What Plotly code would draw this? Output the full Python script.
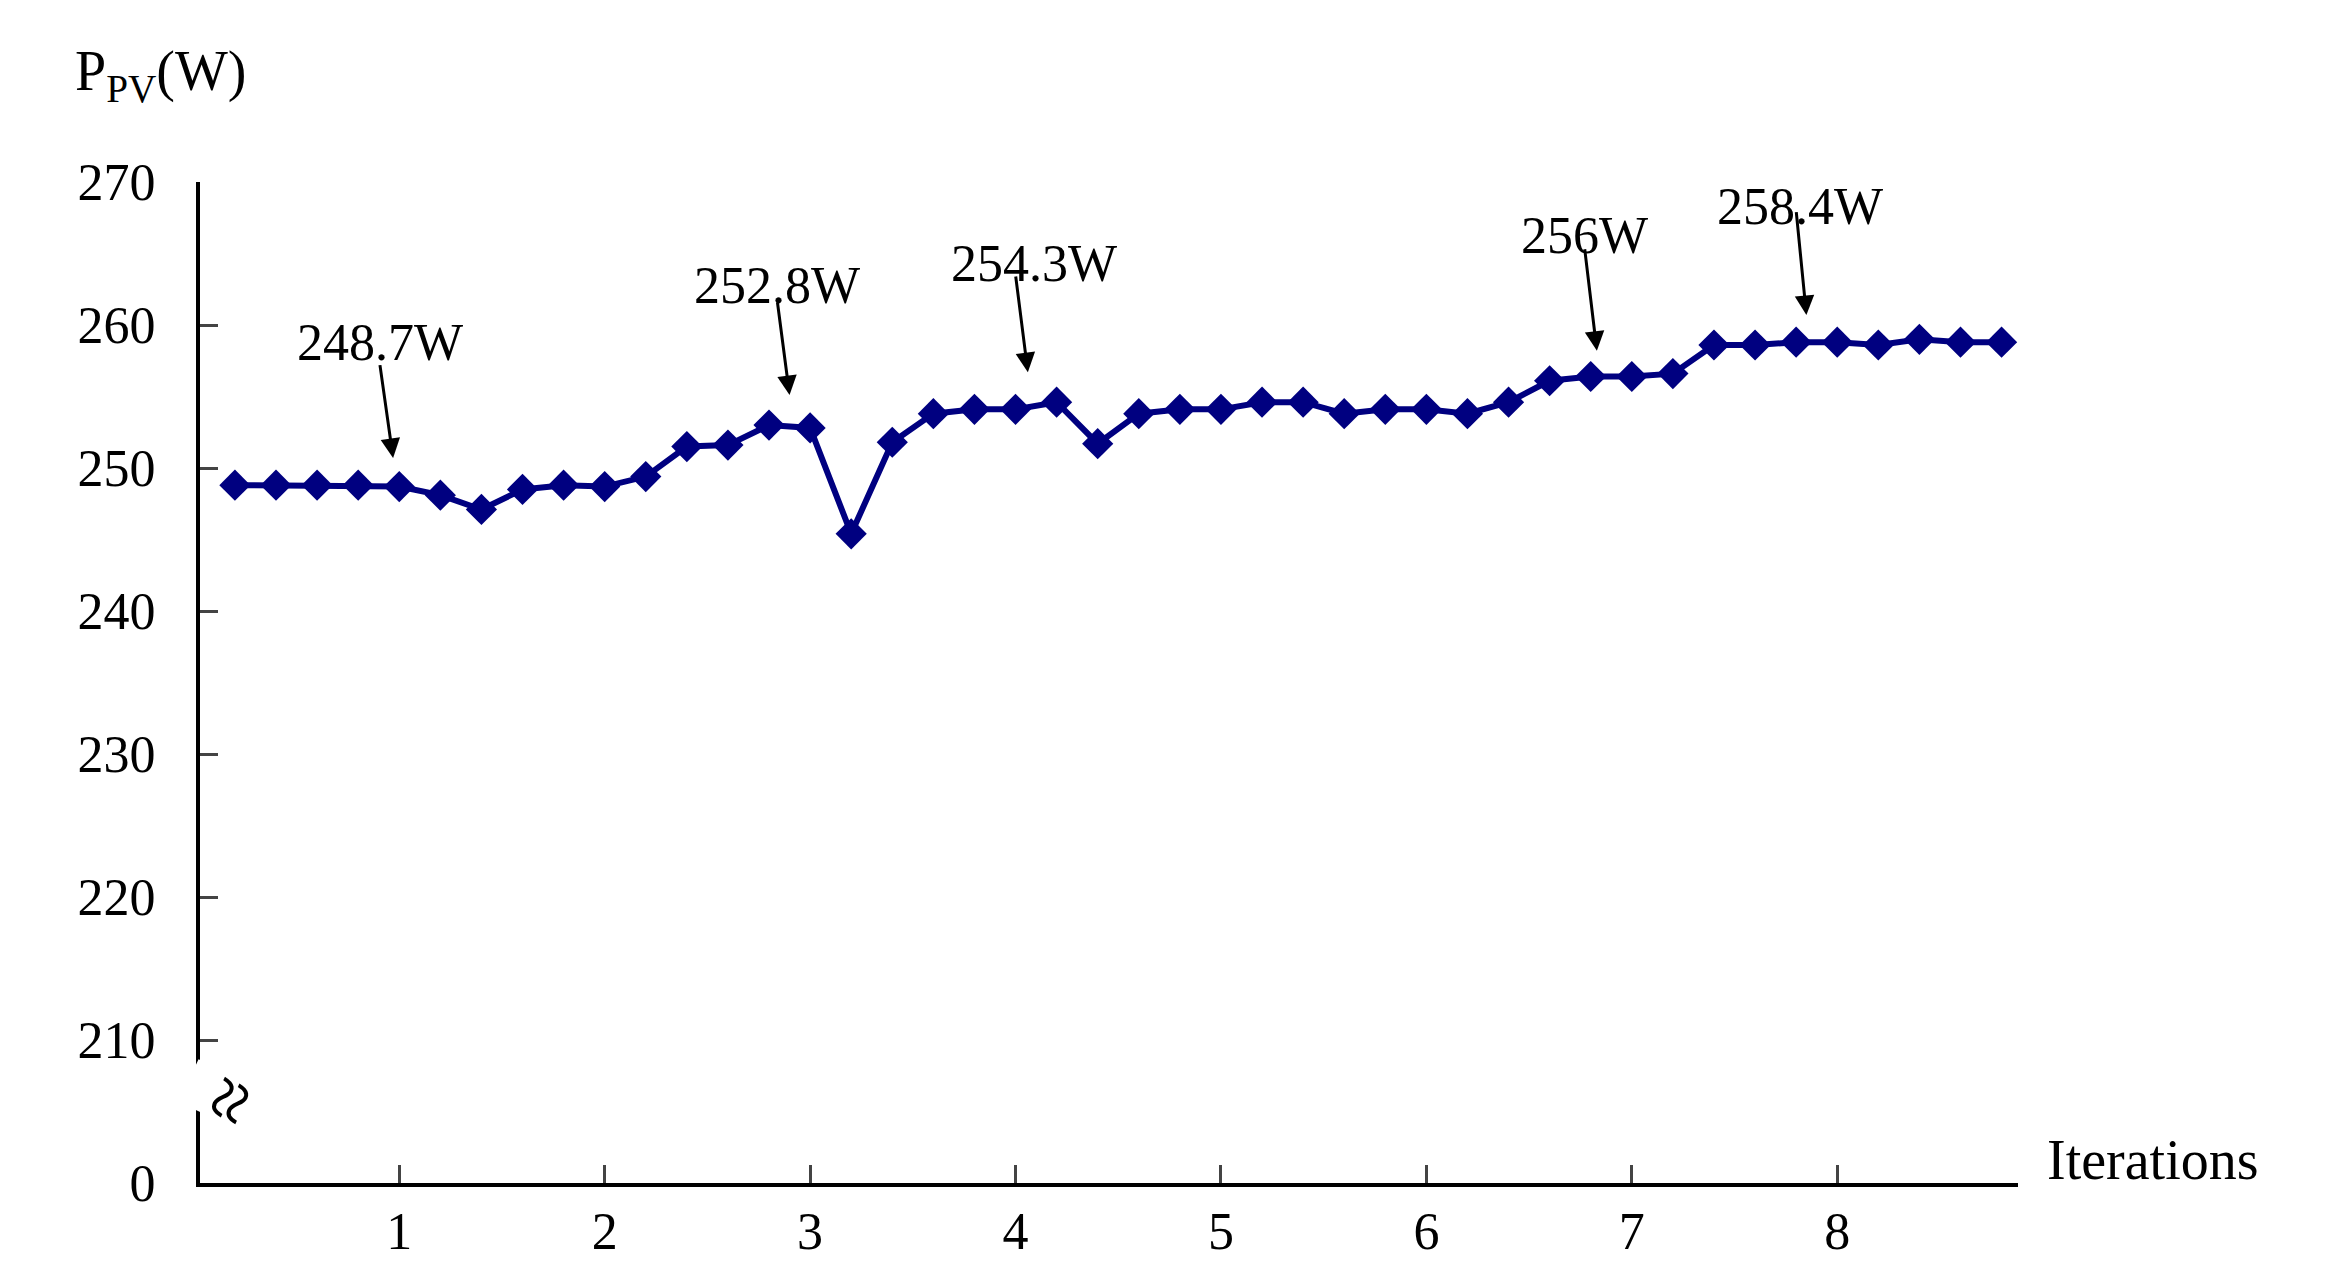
import plotly.graph_objects as go

x = [round(0.2 * i, 1) for i in range(1, 45)]
p = [248.8, 248.8, 248.8, 248.8, 248.7, 248.1, 247.1, 248.5, 248.8, 248.7,
     249.4, 251.5, 251.6, 253.0, 252.8, 245.4, 251.8, 253.8, 254.1, 254.1,
     254.6, 251.7, 253.8, 254.1, 254.1, 254.6, 254.6, 253.8, 254.1, 254.1,
     253.8, 254.6, 256.1, 256.4, 256.4, 256.6, 258.6, 258.6, 258.8, 258.8,
     258.6, 259.0, 258.8, 258.8]
ytick_vals = [200, 210, 220, 230, 240, 250, 260, 270]
ytick_text = ["0", "210", "220", "230", "240", "250", "260", "270"]
labels = ["248.7W", "252.8W", "254.3W", "256W", "258.4W"]
label_pos = [(0.905, 260.9), (2.84, 264.9), (4.09, 266.4), (6.77, 268.4), (7.82, 270.4)]
arrows = [((0.905, 257.3), (0.97, 250.7)), ((2.84, 261.7), (2.90, 255.1)),
          ((4.0, 263.5), (4.06, 256.7)), ((6.77, 265.4), (6.83, 258.2)),
          ((7.80, 268.0), (7.85, 260.7))]

F = "Liberation Serif"
fig = go.Figure(go.Scatter(x=x, y=p, mode="lines+markers",
                           line=dict(color="#000080", width=6),
                           marker=dict(symbol="diamond", size=24, color="#000080")))
ann = []
for t, (lx, ly) in zip(labels, label_pos):
    ann.append(dict(x=lx, y=(ly - 200) / 70, yref="paper", text=t, showarrow=False,
                    font=dict(family=F, size=52, color="black")))
for (tx, ty), (hx, hy) in arrows:
    ann.append(dict(x=hx, y=hy, ax=tx, ay=ty, axref="x", ayref="y", text="", showarrow=True,
                    arrowhead=2, arrowsize=1.3, arrowwidth=3, arrowcolor="black"))
ann.append(dict(xref="paper", yref="paper", x=-0.07, y=1.07, xanchor="left", yanchor="bottom",
                text="P<sub>PV</sub>(W)", showarrow=False, font=dict(family=F, size=56, color="black")))
ann.append(dict(xref="paper", yref="paper", x=1.015, y=-0.01, xanchor="left", yanchor="bottom",
                text="Iterations", showarrow=False, font=dict(family=F, size=56, color="black")))
ann.append(dict(xref="paper", x=0.0, y=205.8, text="≈", showarrow=False, textangle=-65,
                xshift=-22, bgcolor="white", font=dict(family=F, size=80, color="black")))
fig.update_layout(
    width=2341, height=1266, paper_bgcolor="white", plot_bgcolor="white",
    margin=dict(l=192, r=331, t=174, b=91), showlegend=False, annotations=ann,
    font=dict(family=F, size=52, color="black"),
    xaxis=dict(range=[0.03, 8.88], tickvals=list(range(1, 9)), ticks="inside", ticklen=18,
               tickwidth=3, showline=True, linecolor="black", linewidth=4, showgrid=False,
               zeroline=False),
    yaxis=dict(range=[200, 270], tickvals=ytick_vals, ticktext=ytick_text, ticks="inside",
               ticklen=18, tickwidth=3, showline=True, linecolor="black", linewidth=4,
               showgrid=False, zeroline=False, ticklabelstandoff=30),
)
fig.write_html("out.html")
